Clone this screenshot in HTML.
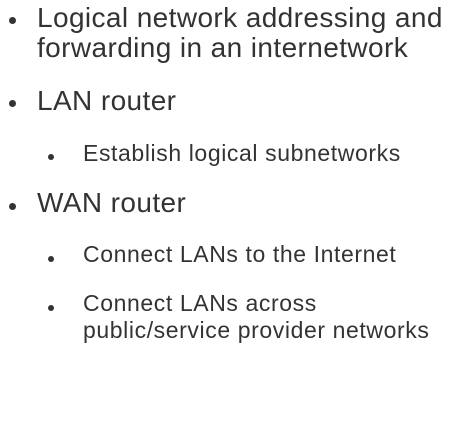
<!DOCTYPE html>
<html><head><meta charset="utf-8"><style>
body{margin:0;width:460px;height:425px;background:#fff;position:relative;overflow:hidden;font-family:"Liberation Sans",sans-serif;color:#333;}
.t{position:absolute;white-space:nowrap;}
.l1{font-size:28px;left:37px;letter-spacing:0.4px;}
.l2{font-size:23px;left:83px;letter-spacing:0.6px;}
.b{position:absolute;border-radius:50%;background:#333;}
</style></head><body>
<div class="b" style="left:9px;top:17px;width:7px;height:7px"></div>
<div class="t l1" style="top:2px">Logical network addressing and</div>
<div class="t l1" style="top:32px">forwarding in an internetwork</div>
<div class="b" style="left:9px;top:100px;width:7px;height:7px"></div>
<div class="t l1" style="top:85px">LAN router</div>
<div class="b" style="left:48px;top:154px;width:6px;height:6px"></div>
<div class="t l2" style="top:140px">Establish logical subnetworks</div>
<div class="b" style="left:9px;top:203px;width:7px;height:7px"></div>
<div class="t l1" style="top:187px">WAN router</div>
<div class="b" style="left:48px;top:256px;width:6px;height:6px"></div>
<div class="t l2" style="top:241px">Connect LANs to the Internet</div>
<div class="b" style="left:48px;top:305px;width:6px;height:6px"></div>
<div class="t l2" style="top:290px">Connect LANs across</div>
<div class="t l2" style="top:317px">public/service provider networks</div>
</body></html>
